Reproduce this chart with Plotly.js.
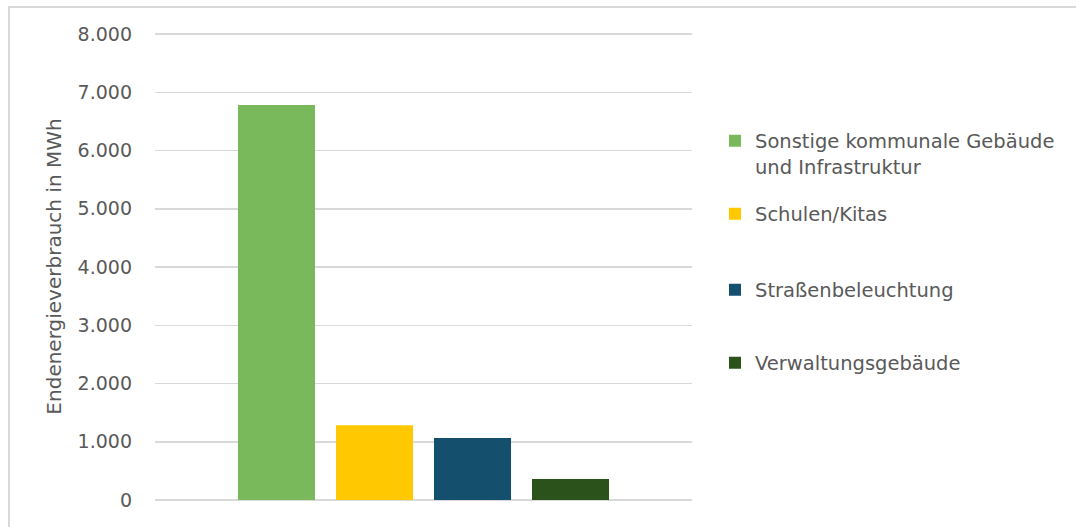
<!DOCTYPE html>
<html>
<head>
<meta charset="utf-8">
<script src="https://cdn.plot.ly/plotly-3.0.1.min.js"></script>
<style>
  html, body { margin: 0; padding: 0; background: #fff; }
  #chart { width: 1076px; height: 527px; }
  #frame { position: absolute; left: 8px; top: 6px; width: 1100px; height: 600px;
           border-left: 2px solid #d9d9d9; border-top: 2px solid #d9d9d9; pointer-events: none; }
</style>
</head>
<body>
<div id="chart"></div>
<div id="frame"></div>
<script>
const categories = ["Sonstige kommunale Gebäude<br>und Infrastruktur", "Schulen/Kitas", "Straßenbeleuchtung", "Verwaltungsgebäude"];
const values = [6780, 1285, 1065, 360];
const colors = ["#7ab85c", "#ffc800", "#14506e", "#2c521c"];
const tickVals = [0, 1000, 2000, 3000, 4000, 5000, 6000, 7000, 8000];
const tickText = ["0", "1.000", "2.000", "3.000", "4.000", "5.000", "6.000", "7.000", "8.000"];
const legendCentersPx = [153.5, 214, 290, 363];

const H = 527, W = 1076;
const FONT = '"DejaVu Sans", sans-serif';
const legendNames = ["legend", "legend2", "legend3", "legend4"];

const traces = categories.map((c, i) => ({
  type: "bar",
  x: [""],
  y: [values[i]],
  name: c,
  marker: { color: colors[i] },
  legend: legendNames[i],
  hoverinfo: "y+name"
}));

const layout = {
  width: W, height: H,
  margin: { l: 155, r: 384, t: 33, b: 27 },
  paper_bgcolor: "rgba(0,0,0,0)",
  plot_bgcolor: "rgba(0,0,0,0)",
  barmode: "group",
  bargap: 0.27,
  bargroupgap: 0.214,
  font: { family: FONT, color: "#595959", size: 19 },
  xaxis: { showticklabels: false, showgrid: false, zeroline: false, showline: false, ticks: "" },
  yaxis: {
    range: [0, 8018],
    tickvals: tickVals, ticktext: tickText,
    showgrid: true, gridcolor: "#d9d9d9", gridwidth: 1.5,
    zeroline: true, zerolinecolor: "#d9d9d9", zerolinewidth: 1.5,
    showline: false, ticks: "",
    ticklabelstandoff: 22,
    tickfont: { size: 19, color: "#595959", family: FONT },
    title: { text: "Endenergieverbrauch in MWh", font: { size: 20, color: "#595959", family: FONT }, standoff: 10 }
  },
  showlegend: true
};
legendNames.forEach((ln, i) => {
  layout[ln] = {
    xref: "container", yref: "container",
    x: 715 / W, y: 1 - legendCentersPx[i] / H,
    xanchor: "left", yanchor: "middle",
    valign: "top",
    bgcolor: "rgba(0,0,0,0)",
    font: { size: 19.5, color: "#595959", family: FONT }
  };
});

Plotly.newPlot("chart", traces, layout, { displayModeBar: false, staticPlot: true });
</script>
</body>
</html>
